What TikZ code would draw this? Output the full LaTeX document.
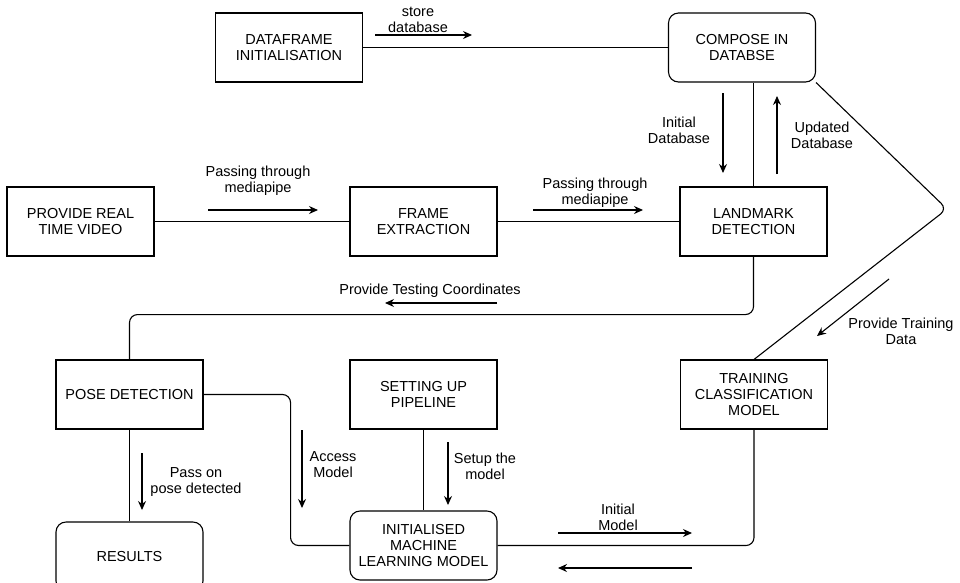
\documentclass[tikz,border=0pt]{standalone}
\usepackage{fontspec}
\setmainfont{Liberation Sans}
\usetikzlibrary{arrows.meta, positioning}

\begin{document}
\begin{tikzpicture}[
  x=1pt, y=-1pt,
  box/.style={rectangle, draw, line width=1.1pt,
              minimum width=147pt, minimum height=69pt,
              font=\fontsize{14.5}{16}\selectfont, align=center, inner sep=2pt},
  rbox/.style={box, rounded corners=10pt},
  lbl/.style={font=\fontsize{14.5}{16}\selectfont, align=center, inner sep=1pt},
  link/.style={line width=1.1pt, rounded corners=8pt},
  flow/.style={line width=1.1pt, -{Stealth[length=9pt,width=8pt]}}
]
\useasboundingbox (0,0) rectangle (960,582);
% boxes
\node[box] (df) at (289,47.5) {DATAFRAME\\INITIALISATION};
\node[rbox] (comp) at (742,47.5) {COMPOSE IN\\DATABSE};
\node[box] (video) at (80.5,221.5) {PROVIDE REAL\\TIME VIDEO};
\node[box] (frame) at (423.5,221.5) {FRAME\\EXTRACTION};
\node[box] (land) at (753.5,221.5) {LANDMARK\\DETECTION};
\node[box] (pose) at (129.5,394.5) {POSE DETECTION};
\node[box] (setup) at (423.5,394.5) {SETTING UP\\PIPELINE};
\node[box] (train) at (754,394.5) {TRAINING\\CLASSIFICATION\\MODEL};
\node[rbox] (res) at (129.5,556.5) {RESULTS};
\node[rbox] (init) at (423.5,545.5) {INITIALISED\\MACHINE\\LEARNING MODEL};
\coordinate (kink) at (947,209);
% links
\draw[link] (df.east) -- (comp.west);
\draw[link] (land.north) -- (land.north |- comp.south);
\draw[link] (comp.south east) -- (kink) -- (train.north);
\draw[link] (video.east) -- (frame.west);
\draw[link] (frame.east) -- (land.west);
\draw[link] (land.south) -- ++(0,58) -| (pose.north);
\draw[link] (pose.east) -- ++(87,0) |- (init.west);
\draw[link] (pose.south) -- (res.north);
\draw[link] (setup.south) -- (init.north);
\draw[link] (init.east) -| (train.south);
% labels and arrows
\node[lbl] (l1) at (418,20) {store\\database};
\draw[flow] (375,35) -- (472,35);
\node[lbl] (l2) at (679,130) {Initial\\Database};
\draw[flow] (723,93) -- (723,173);
\node[lbl] (l3) at (822,135) {Updated\\Database};
\draw[flow] (777,174) -- (777,96);
\node[lbl] (l4) at (901,331) {Provide Training\\Data};
\draw[flow] (889,279) -- (817,336);
\node[lbl] (l5) at (258,181) {Passing through\\mediapipe};
\draw[flow] (208,210) -- (318,210);
\node[lbl] (l6) at (595,193) {Passing through\\mediapipe};
\draw[flow] (533,210) -- (643,210);
\node[lbl] (l7) at (430,291) {Provide Testing Coordinates};
\draw[flow] (497,303) -- (385,303);
\node[lbl] (l8) at (196,482) {Pass on\\pose detected};
\draw[flow] (142,453) -- (142,510);
\node[lbl] (l9) at (333,465) {Access\\Model};
\draw[flow] (302,430) -- (302,508);
\node[lbl] (l10) at (485,466) {Setup the\\model};
\draw[flow] (448,442) -- (448,505);
\node[lbl] (l11) at (618,517) {Initial\\Model};
\draw[flow] (558,533) -- (692,533);
\draw[flow] (692,568) -- (558,568);
\end{tikzpicture}
\end{document}
